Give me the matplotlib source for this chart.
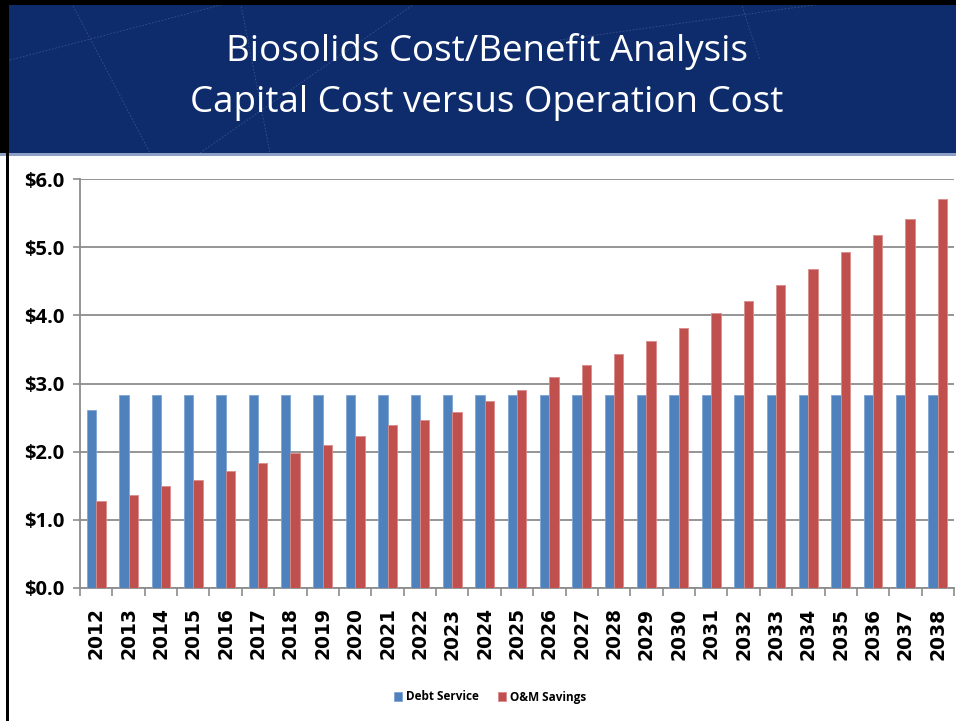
import matplotlib
matplotlib.use("Agg")
import matplotlib.pyplot as plt
from matplotlib.patches import Rectangle
from matplotlib.lines import Line2D
import numpy as np

years = [str(y) for y in range(2012, 2039)]
debt_service = [2.61] + [2.83] * 26
om_savings = [1.28, 1.37, 1.49, 1.59, 1.71, 1.84, 1.98, 2.10, 2.23, 2.39,
              2.46, 2.58, 2.74, 2.91, 3.09, 3.27, 3.43, 3.62, 3.82, 4.03,
              4.21, 4.44, 4.68, 4.93, 5.18, 5.42, 5.71]
y_ticks = [0, 1, 2, 3, 4, 5, 6]
y_labels = ["$0.0", "$1.0", "$2.0", "$3.0", "$4.0", "$5.0", "$6.0"]
title_lines = ["Biosolids Cost/Benefit Analysis", "Capital Cost versus Operation Cost"]

W, H = 956, 721
fig = plt.figure(figsize=(W / 100, H / 100), dpi=100)
fig.patch.set_facecolor("white")

# Banner
fig.patches.append(Rectangle((0, 1 - 153 / H), 1, 153 / H, transform=fig.transFigure,
                             facecolor="#0E2C6C", edgecolor="none", zorder=0))
fig.patches.append(Rectangle((0, 1 - 156 / H), 1, 3.5 / H, transform=fig.transFigure,
                             facecolor="#8C9FC4", edgecolor="none", zorder=1))
# faint decorative lines in banner
for (x0, y0, x1, y1) in [(10, 60, 240, 0), (70, 0, 150, 153), (200, 153, 420, 0),
                         (240, 0, 270, 153), (560, 40, 850, 0), (740, 0, 760, 60)]:
    fig.add_artist(Line2D([x0 / W, x1 / W], [1 - y0 / H, 1 - y1 / H], transform=fig.transFigure,
                          color="#5F77A8", lw=0.6, alpha=0.5, ls=(0, (2, 2)), zorder=1))
# black frame
fig.patches.append(Rectangle((0, 1 - 5 / H), 1, 5 / H, transform=fig.transFigure,
                             facecolor="black", edgecolor="none", zorder=2))
fig.patches.append(Rectangle((6 / W, 0), 3 / W, 1, transform=fig.transFigure,
                             facecolor="black", edgecolor="none", zorder=2))
fig.patches.append(Rectangle((0, 1 - 153 / H), 9 / W, 153 / H, transform=fig.transFigure,
                             facecolor="black", edgecolor="none", zorder=2))

fig.text(487 / W, 1 - 52 / H, title_lines[0], color="white", fontsize=26.5,
         family="Open Sans", ha="center", va="center")
fig.text(487 / W, 1 - 103 / H, title_lines[1], color="white", fontsize=26.5,
         family="Open Sans", ha="center", va="center")

left, right = 80, 954
top, bottom = 179, 588
ax = fig.add_axes([left / W, 1 - bottom / H, (right - left) / W, (bottom - top) / H])

x = np.arange(len(years))
bw = 0.29
ax.bar(x - bw / 2, debt_service, bw, color="#4F81BD", edgecolor="#7FA5D6", linewidth=0.6,
       label="Debt Service", zorder=3)
ax.bar(x + bw / 2, om_savings, bw, color="#C0504D", edgecolor="#D98C8A", linewidth=0.6,
       label="O&M Savings", zorder=3)

ax.set_xlim(-0.5, len(years) - 0.5)
ax.set_ylim(0, 6)
ax.set_yticks(y_ticks)
ax.set_yticklabels(y_labels, fontsize=14.5, fontweight="bold", family="Open Sans")
ax.yaxis.grid(True, color="#8C8C8C", lw=1.3, zorder=0)
ax.set_axisbelow(True)
for s in ["top", "right"]:
    ax.spines[s].set_visible(False)
ax.spines["left"].set_color("#8C8C8C")
ax.spines["left"].set_linewidth(1.3)
ax.spines["bottom"].set_color("#8C8C8C")
ax.spines["bottom"].set_linewidth(1.3)
ax.tick_params(axis="y", length=5, color="#8C8C8C", width=1.2, pad=6)

ax.set_xticks(x)
ax.set_xticklabels(years, rotation=90, fontsize=13.5, fontweight="bold", family="DejaVu Sans")
ax.tick_params(axis="x", which="major", length=0, pad=14)
ax.set_xticks(np.arange(-0.5, len(years), 1), minor=True)
ax.tick_params(axis="x", which="minor", length=6, color="#8C8C8C", width=1.2)

leg = fig.legend(loc="center", bbox_to_anchor=(490 / W, 1 - 697 / H), ncol=2, frameon=False,
                 prop={"size": 8.5, "weight": "bold", "family": "Open Sans"},
                 handlelength=0.7, handleheight=0.9, handletextpad=0.3, columnspacing=1.6)

fig.savefig("out.png", dpi=100, facecolor="white")
